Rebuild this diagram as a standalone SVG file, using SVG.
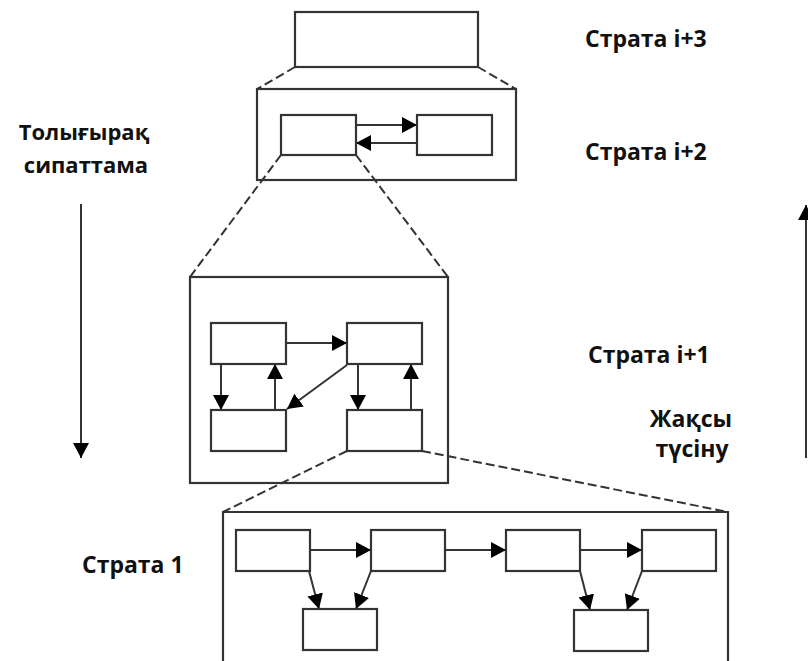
<svg xmlns="http://www.w3.org/2000/svg" width="808" height="661" viewBox="0 0 808 661">
<defs>
<marker id="ah" markerUnits="userSpaceOnUse" markerWidth="16" markerHeight="16" refX="15" refY="8" orient="auto">
<path d="M0,0 L15,8 L0,16 z" fill="#000"/>
</marker>
<style>
.box{fill:#fff;stroke:#333;stroke-width:2.2}
.frame{fill:none;stroke:#333;stroke-width:2.2}
.ln{fill:none;stroke:#333;stroke-width:2}
.dash{fill:none;stroke:#333;stroke-width:2;stroke-dasharray:9 4}
.lab{font-family:"Open Sans","Noto Sans",sans-serif;font-weight:bold;font-size:23px;fill:#111}
.lab2{font-size:22px}
</style>
</defs>
<rect width="808" height="661" fill="#fff"/>
<g id="connectors">
<path class="dash" d="M295,67 L257,89"/>
<path class="dash" d="M478,67 L516,89"/>
<path class="dash" d="M281,155 L190,277"/>
<path class="dash" d="M356,155 L448,277"/>
<path class="dash" d="M347,451 L223,512"/>
<path class="dash" d="M422,451 L728,512"/>
<path class="ln" d="M356,125 H417" marker-end="url(#ah)"/>
<path class="ln" d="M417,143 H356" marker-end="url(#ah)"/>
<path class="ln" d="M286,343 H347" marker-end="url(#ah)"/>
<path class="ln" d="M221,364 V410" marker-end="url(#ah)"/>
<path class="ln" d="M275,410 V364" marker-end="url(#ah)"/>
<path class="ln" d="M347,365 L287,409" marker-end="url(#ah)"/>
<path class="ln" d="M358,364 V410" marker-end="url(#ah)"/>
<path class="ln" d="M411,410 V364" marker-end="url(#ah)"/>
<path class="ln" d="M310,550 H371" marker-end="url(#ah)"/>
<path class="ln" d="M445,550 H506" marker-end="url(#ah)"/>
<path class="ln" d="M580,550 H642" marker-end="url(#ah)"/>
<path class="ln" d="M309,571 L319,609" marker-end="url(#ah)"/>
<path class="ln" d="M371,571 L356,609" marker-end="url(#ah)"/>
<path class="ln" d="M580,571 L590,610" marker-end="url(#ah)"/>
<path class="ln" d="M642,571 L627,610" marker-end="url(#ah)"/>
<path class="ln" d="M81,204 V458" marker-end="url(#ah)"/>
<path class="ln" d="M806,458 V205" marker-end="url(#ah)"/>
</g>
<g id="stratum-i3">
<rect class="box" x="295" y="12" width="183" height="55"/>
</g>
<g id="stratum-i2">
<rect class="frame" x="257" y="89" width="259" height="91"/>
<rect id="i2-a" class="box" x="281" y="115" width="75" height="40"/>
<rect id="i2-b" class="box" x="417" y="115" width="75" height="40"/>
</g>
<g id="stratum-i1">
<rect class="frame" x="190" y="277" width="258" height="206"/>
<rect id="i1-a" class="box" x="211" y="323" width="75" height="41"/>
<rect id="i1-b" class="box" x="347" y="323" width="75" height="41"/>
<rect id="i1-c" class="box" x="211" y="410" width="75" height="41"/>
<rect id="i1-d" class="box" x="347" y="410" width="75" height="41"/>
</g>
<g id="stratum-1">
<path class="frame" d="M223,663 V512 H728 V663"/>
<rect id="s1-a" class="box" x="236" y="530" width="74" height="41"/>
<rect id="s1-b" class="box" x="371" y="530" width="74" height="41"/>
<rect id="s1-c" class="box" x="506" y="530" width="74" height="41"/>
<rect id="s1-d" class="box" x="642" y="530" width="74" height="41"/>
<rect id="s1-e" class="box" x="303" y="609" width="74" height="41"/>
<rect id="s1-f" class="box" x="574" y="610" width="74" height="41"/>
</g>
<g id="labels">
<text class="lab lab2" x="84" y="140" text-anchor="middle">Толығырақ</text>
<text class="lab lab2" x="86" y="173" text-anchor="middle">сипаттама</text>
<text class="lab" x="585" y="47">Страта i+3</text>
<text class="lab" x="585" y="160">Страта i+2</text>
<text class="lab" x="588" y="363">Страта i+1</text>
<text class="lab" x="691" y="427" text-anchor="middle">Жақсы</text>
<text class="lab" x="692" y="457" text-anchor="middle">түсіну</text>
<text class="lab" x="82" y="573">Страта 1</text>
</g>
</svg>
